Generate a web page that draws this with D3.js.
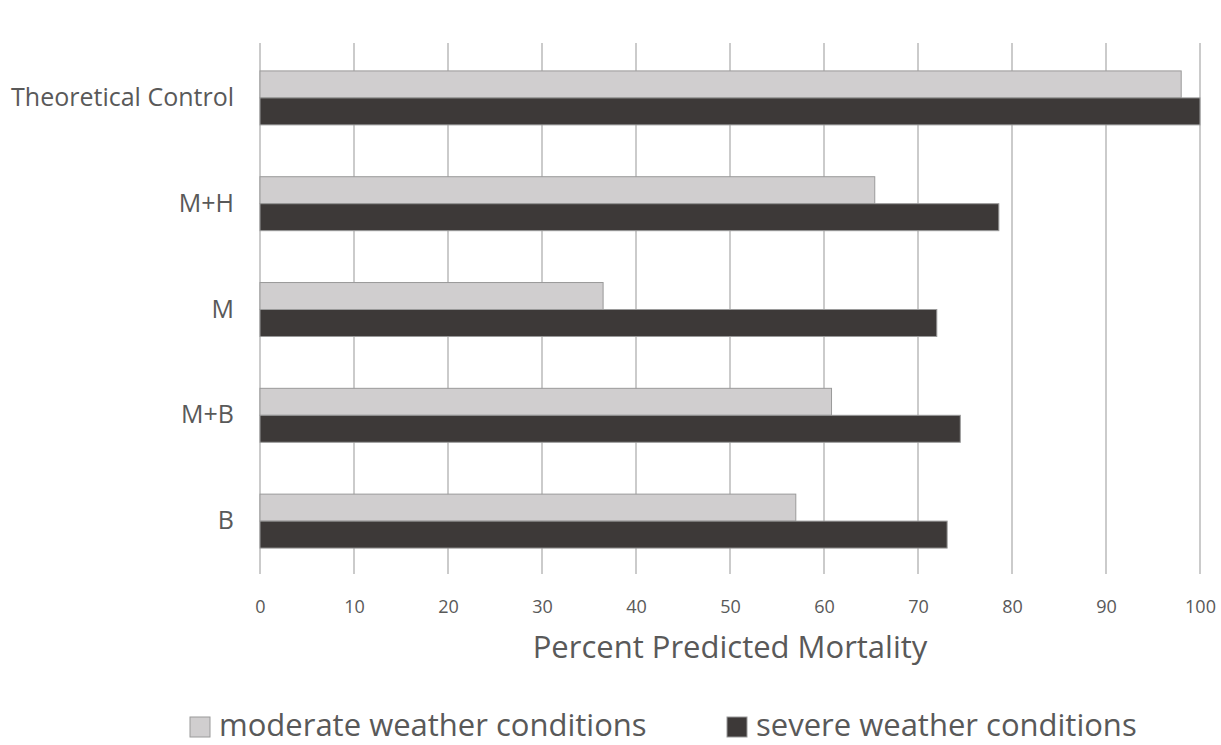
<!DOCTYPE html>
<html>
<head>
<meta charset="utf-8">
<script src="https://cdn.jsdelivr.net/npm/d3@7"></script>
<style>
  body { margin: 0; background: #fff; }
  text { font-family: "Open Sans", Lato, sans-serif; fill: #595959; }
</style>
</head>
<body>
<div id="chart"></div>
<script>
var categories = ["Theoretical Control", "M+H", "M", "M+B", "B"];
var seriesNames = ["moderate weather conditions", "severe weather conditions"];
var moderate = [98, 65.4, 36.5, 60.8, 57.0];
var severe = [100, 78.6, 72.0, 74.5, 73.1];
var xTicks = [0, 10, 20, 30, 40, 50, 60, 70, 80, 90, 100];
var colors = ["#d0cecf", "#3d3938"];

var width = 1221, height = 745;
var margin = {top: 45, right: 21, bottom: 171, left: 260};

var svg = d3.select("#chart").append("svg")
    .attr("width", width)
    .attr("height", height);

var g = svg.append("g")
    .attr("transform", "translate(" + margin.left + "," + margin.top + ")");

var w = width - margin.left - margin.right,
    h = height - margin.top - margin.bottom;

var x = d3.scaleLinear().domain([0, 100]).range([0, w]);
var y0 = d3.scaleBand().domain(categories).range([0, h])
    .paddingInner(0.49).paddingOuter(0.245);
var y1 = d3.scaleBand().domain(seriesNames).range([0, y0.bandwidth()]);

// gridlines
g.append("g").attr("class", "grid")
  .selectAll("line").data(xTicks).enter().append("line")
    .attr("x1", function(d) { return x(d); })
    .attr("x2", function(d) { return x(d); })
    .attr("y1", -2)
    .attr("y2", h)
    .attr("stroke", "#cbcbcb")
    .attr("stroke-width", 2);

// bars
var rows = categories.map(function(c, i) {
  return {cat: c, values: [moderate[i], severe[i]]};
});

var grp = g.selectAll(".grp").data(rows).enter().append("g")
    .attr("class", "grp")
    .attr("transform", function(d) { return "translate(0," + y0(d.cat) + ")"; });

grp.selectAll("rect").data(function(d) {
    return d.values.map(function(v, j) { return {name: seriesNames[j], value: v, j: j}; });
  }).enter().append("rect")
    .attr("x", x(0))
    .attr("y", function(d) { return y1(d.name); })
    .attr("width", function(d) { return x(d.value) - x(0); })
    .attr("height", y1.bandwidth())
    .attr("fill", function(d) { return colors[d.j]; })
    .attr("stroke", "#9a9a9a")
    .attr("stroke-width", 1);

// y axis labels
var yAxis = g.append("g")
    .call(d3.axisLeft(y0).tickSize(0).tickPadding(26));
yAxis.select(".domain").remove();
yAxis.selectAll("text")
    .style("font-size", "25px")
    .attr("fill", "#595959");

// x axis
var xAxis = g.append("g")
    .attr("transform", "translate(0," + h + ")")
    .call(d3.axisBottom(x).tickValues(xTicks).tickSize(0).tickPadding(26));
xAxis.select(".domain").remove();
xAxis.selectAll("text")
    .style("font-size", "18px")
    .attr("fill", "#595959");

// axis title
g.append("text")
    .attr("x", w / 2)
    .attr("y", h + 84)
    .attr("text-anchor", "middle")
    .style("font-size", "31px")
    .text("Percent Predicted Mortality");

// legend
var legendX = [190, 727];
var legend = svg.selectAll(".legend").data(seriesNames).enter().append("g")
    .attr("class", "legend")
    .attr("transform", function(d, i) { return "translate(" + legendX[i] + ",717)"; });

legend.append("rect")
    .attr("width", 20)
    .attr("height", 20)
    .attr("fill", function(d, i) { return colors[i]; })
    .attr("stroke", "#9a9a9a");

legend.append("text")
    .attr("x", 29)
    .attr("y", 19)
    .style("font-size", "31px")
    .text(function(d) { return d; });
</script>
</body>
</html>
